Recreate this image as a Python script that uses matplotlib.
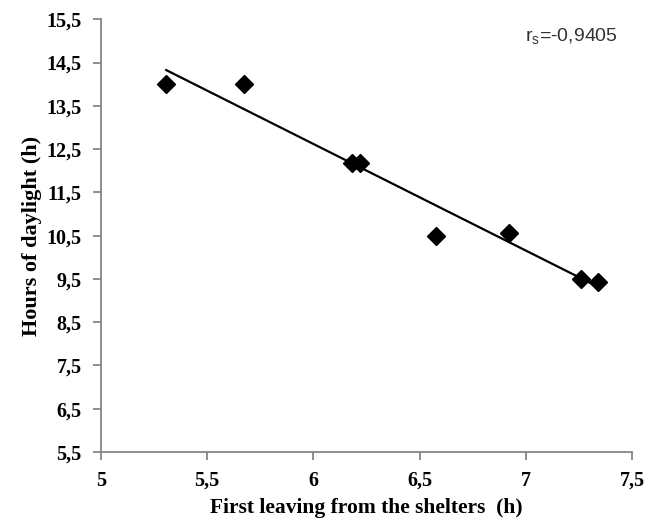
import numpy as np
import matplotlib
matplotlib.use("Agg")
import matplotlib.pyplot as plt

first_leaving = [5.307, 5.671, 6.183, 6.218, 6.579, 6.923, 7.259, 7.338]
daylight_hours = [14.0, 14.0, 12.19, 12.19, 10.50, 10.56, 9.50, 9.44]
x_ticks = [5, 5.5, 6, 6.5, 7, 7.5]
y_ticks = [5.5, 6.5, 7.5, 8.5, 9.5, 10.5, 11.5, 12.5, 13.5, 14.5, 15.5]
x_tick_labels = ["5", "5,5", "6", "6,5", "7", "7,5"]
y_tick_labels = ["5,5", "6,5", "7,5", "8,5", "9,5", "10,5", "11,5", "12,5", "13,5", "14,5", "15,5"]
annotation = "r$_\\mathregular{s}$=-0,9405"

fig = plt.figure(figsize=(6.66, 5.21), dpi=100)
ax = fig.add_axes([0.1517, 0.1324, 0.7973, 0.8306])

x = np.array(first_leaving)
y = np.array(daylight_hours)
slope, intercept = np.polyfit(x, y, 1)
xs = np.array([x.min(), x.max()])
ax.plot(xs, slope * xs + intercept, color="black", lw=1.6, zorder=2)
ax.plot(x, y, linestyle="none", marker="D", markersize=8.8, color="black", zorder=3)

ax.set_xlim(5, 7.5)
ax.set_ylim(5.5, 15.5)
ax.set_xticks(x_ticks)
ax.set_xticklabels(x_tick_labels)
ax.set_yticks(y_ticks)
ax.set_yticklabels(y_tick_labels)

for s in ["top", "right"]:
    ax.spines[s].set_visible(False)
for s in ["left", "bottom"]:
    ax.spines[s].set_color("#868686")
    ax.spines[s].set_linewidth(1.3)
ax.tick_params(axis="both", direction="out", length=5.5, width=1.3, color="#868686",
               labelsize=14.5)
ax.tick_params(axis="x", pad=8)
ax.tick_params(axis="y", pad=8.5)
for lab in ax.get_xticklabels() + ax.get_yticklabels():
    lab.set_fontfamily("Liberation Serif")
    lab.set_fontweight("bold")

ax.set_xlabel("First leaving from the shelters  (h)", fontfamily="Liberation Serif",
              fontweight="bold", fontsize=15.5, labelpad=5.5)
ax.set_ylabel("Hours of daylight (h)", fontfamily="Liberation Serif",
              fontweight="bold", fontsize=16, labelpad=3)

fig.text(0.788, 0.930, annotation, fontfamily="Liberation Sans", fontsize=14,
         color="#333333", ha="left", va="center")

fig.savefig("out.png", dpi=100, facecolor="white")
